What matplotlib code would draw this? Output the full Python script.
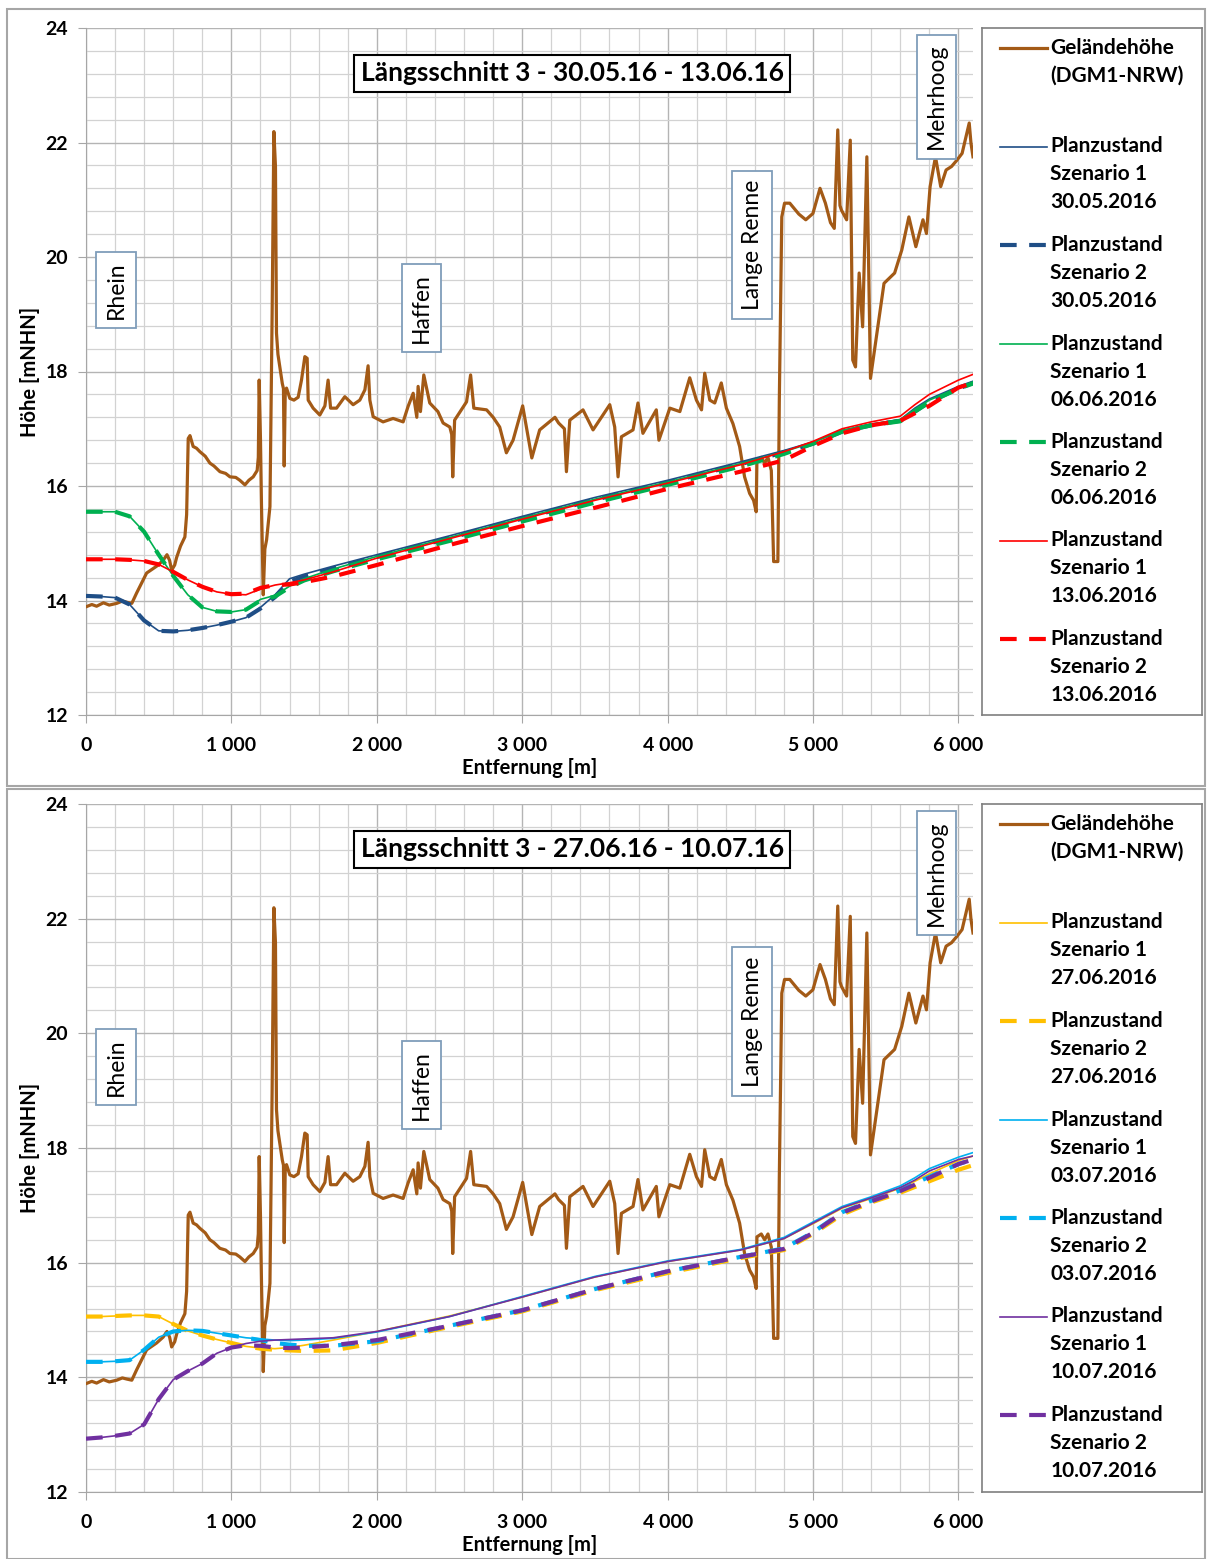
import matplotlib
matplotlib.use("Agg")
import matplotlib.pyplot as plt
from matplotlib.patches import Rectangle
from matplotlib.ticker import MultipleLocator

plt.rcParams['font.family'] = ['Lato', 'DejaVu Sans']

# Gelaendehoehe (DGM1-NRW), gleich fuer beide Zeitraeume
terr_x = [0, 40, 73, 120, 160, 211, 250, 280, 315, 348, 417, 486, 530, 557, 575, 589, 610, 623,
          650, 680, 692, 703, 715, 737, 760, 783, 820, 852, 880, 921, 960, 990, 1030, 1058, 1093,
          1120, 1150, 1177, 1185, 1191, 1200, 1207, 1219, 1230, 1242, 1265, 1280, 1292, 1303, 1310,
          1320, 1333, 1350, 1358, 1363, 1370, 1379, 1402, 1430, 1459, 1482, 1505, 1521, 1528, 1562,
          1608, 1643, 1665, 1682, 1723, 1780, 1837, 1883, 1918, 1940, 1952, 1975, 2043, 2112, 2181,
          2215, 2250, 2275, 2284, 2300, 2323, 2364, 2420, 2456, 2502, 2515, 2522, 2535, 2617, 2645,
          2667, 2755, 2800, 2845, 2891, 2937, 3003, 3066, 3120, 3225, 3250, 3290, 3304, 3327, 3418,
          3487, 3602, 3636, 3659, 3682, 3762, 3796, 3830, 3922, 3940, 4015, 4084, 4152, 4198, 4233,
          4255, 4290, 4324, 4369, 4404, 4449, 4495, 4529, 4564, 4591, 4609, 4614, 4644, 4667, 4690,
          4713, 4729, 4758, 4768, 4785, 4804, 4840, 4902, 4950, 4999, 5048, 5085, 5120, 5146, 5170,
          5185, 5195, 5231, 5256, 5273, 5292, 5317, 5341, 5370, 5395, 5439, 5488, 5561, 5610, 5659,
          5707, 5756, 5780, 5805, 5842, 5878, 5915, 5952, 5989, 6025, 6074, 6086, 6100]
terr_y = [13.89, 13.93, 13.90, 13.96, 13.92, 13.95, 13.99, 13.97, 13.95, 14.13, 14.48, 14.60, 14.70,
          14.80, 14.70, 14.53, 14.62, 14.75, 14.95, 15.11, 15.50, 16.83, 16.88, 16.69, 16.66, 16.60,
          16.52, 16.40, 16.35, 16.25, 16.22, 16.16, 16.15, 16.10, 16.02, 16.10, 16.16, 16.27, 16.50,
          17.85, 16.80, 15.64, 14.10, 14.90, 15.06, 15.64, 19.00, 22.19, 21.58, 18.67, 18.30, 18.08,
          17.79, 17.70, 16.35, 17.60, 17.71, 17.53, 17.50, 17.55, 17.85, 18.26, 18.23, 17.50, 17.36,
          17.24, 17.40, 17.85, 17.36, 17.36, 17.56, 17.42, 17.50, 17.68, 18.10, 17.50, 17.21, 17.12,
          17.18, 17.12, 17.39, 17.62, 17.20, 17.74, 17.30, 17.94, 17.45, 17.30, 17.10, 17.03, 16.90,
          16.16, 17.15, 17.47, 17.94, 17.36, 17.33, 17.20, 17.03, 16.58, 16.80, 17.40, 16.49, 16.98,
          17.20, 17.10, 17.00, 16.25, 17.15, 17.33, 16.98, 17.42, 17.03, 16.16, 16.86, 16.98, 17.45,
          16.92, 17.33, 16.80, 17.36, 17.30, 17.89, 17.50, 17.33, 17.97, 17.50, 17.45, 17.80, 17.36,
          17.09, 16.69, 16.16, 15.87, 15.75, 15.55, 16.45, 16.50, 16.40, 16.50, 16.27, 14.68, 14.68,
          17.50, 20.70, 20.94, 20.94, 20.75, 20.65, 20.76, 21.20, 20.94, 20.60, 20.50, 22.22, 20.90,
          20.82, 20.65, 22.04, 18.20, 18.08, 19.72, 18.78, 21.75, 17.88, 18.67, 19.54, 19.72, 20.12,
          20.70, 20.18, 20.65, 20.41, 21.23, 21.75, 21.23, 21.52, 21.58, 21.69, 21.81, 22.34, 21.99,
          21.75]

# Stationierung der Wasserspiegellagen
wl_x = [0, 100, 200, 300, 400, 500, 600, 700, 800, 900, 1000, 1100, 1200, 1300, 1400, 1500, 1700,
        2000, 2500, 3000, 3500, 4000, 4500, 4800, 5000, 5200, 5400, 5600, 5700, 5800, 6000, 6100]

# Zeitraum 30.05.16 - 13.06.16
sz1_3005 = [14.08, 14.07, 14.05, 13.93, 13.65, 13.47, 13.46, 13.48, 13.52, 13.57, 13.63, 13.70, 13.88,
            14.10, 14.38, 14.46, 14.60, 14.80, 15.13, 15.47, 15.80, 16.10, 16.42, 16.62, 16.77, 16.97,
            17.08, 17.16, 17.36, 17.52, 17.74, 17.83]
sz2_3005 = [14.08, 14.07, 14.05, 13.93, 13.65, 13.47, 13.46, 13.48, 13.52, 13.57, 13.63, 13.70, 13.86,
            14.06, 14.33, 14.42, 14.56, 14.76, 15.09, 15.43, 15.76, 16.06, 16.38, 16.59, 16.74, 16.95,
            17.06, 17.14, 17.30, 17.47, 17.70, 17.80]
sz1_0606 = [15.55, 15.55, 15.55, 15.47, 15.20, 14.80, 14.43, 14.10, 13.88, 13.81, 13.80, 13.84, 14.02,
            14.09, 14.25, 14.38, 14.55, 14.77, 15.10, 15.44, 15.77, 16.07, 16.39, 16.60, 16.76, 16.97,
            17.08, 17.16, 17.34, 17.50, 17.72, 17.82]
sz2_0606 = [15.55, 15.55, 15.55, 15.47, 15.20, 14.80, 14.43, 14.10, 13.88, 13.81, 13.80, 13.84, 14.00,
            14.07, 14.23, 14.35, 14.51, 14.72, 15.04, 15.38, 15.71, 16.02, 16.34, 16.56, 16.74, 16.95,
            17.06, 17.13, 17.30, 17.46, 17.70, 17.79]
sz1_1306 = [14.72, 14.72, 14.72, 14.71, 14.69, 14.63, 14.50, 14.36, 14.24, 14.15, 14.11, 14.10, 14.20,
            14.27, 14.31, 14.36, 14.50, 14.74, 15.08, 15.42, 15.75, 16.05, 16.37, 16.60, 16.78, 17.00,
            17.12, 17.22, 17.42, 17.60, 17.85, 17.95]
sz2_1306 = [14.72, 14.72, 14.72, 14.71, 14.69, 14.63, 14.50, 14.36, 14.24, 14.15, 14.11, 14.12, 14.22,
            14.27, 14.28, 14.32, 14.42, 14.62, 14.97, 15.30, 15.62, 15.95, 16.25, 16.45, 16.70, 16.92,
            17.06, 17.14, 17.27, 17.40, 17.72, 17.80]

# Zeitraum 27.06.16 - 10.07.16
sz1_2706 = [15.06, 15.06, 15.07, 15.08, 15.08, 15.06, 14.93, 14.81, 14.73, 14.66, 14.60, 14.54, 14.51,
            14.50, 14.52, 14.56, 14.65, 14.80, 15.07, 15.40, 15.75, 16.02, 16.22, 16.42, 16.68, 16.95,
            17.12, 17.30, 17.42, 17.55, 17.78, 17.86]
sz2_2706 = [15.06, 15.06, 15.07, 15.08, 15.08, 15.06, 14.93, 14.81, 14.73, 14.66, 14.60, 14.54, 14.50,
            14.48, 14.47, 14.46, 14.47, 14.60, 14.88, 15.15, 15.52, 15.82, 16.08, 16.22, 16.50, 16.84,
            17.05, 17.22, 17.32, 17.42, 17.62, 17.70]
sz1_0307 = [14.27, 14.27, 14.28, 14.30, 14.48, 14.70, 14.80, 14.82, 14.81, 14.77, 14.73, 14.69, 14.67,
            14.65, 14.64, 14.65, 14.68, 14.79, 15.06, 15.41, 15.76, 16.03, 16.23, 16.44, 16.71, 16.98,
            17.15, 17.34, 17.48, 17.64, 17.84, 17.92]
sz2_0307 = [14.27, 14.27, 14.28, 14.30, 14.48, 14.70, 14.80, 14.82, 14.81, 14.77, 14.73, 14.69, 14.65,
            14.60, 14.57, 14.55, 14.55, 14.63, 14.90, 15.17, 15.54, 15.85, 16.10, 16.25, 16.53, 16.88,
            17.08, 17.26, 17.38, 17.50, 17.72, 17.80]
sz1_1007 = [12.93, 12.95, 12.98, 13.02, 13.18, 13.62, 13.96, 14.11, 14.24, 14.42, 14.52, 14.59, 14.63,
            14.65, 14.66, 14.67, 14.69, 14.80, 15.06, 15.40, 15.75, 16.02, 16.22, 16.42, 16.69, 16.96,
            17.13, 17.31, 17.44, 17.60, 17.80, 17.86]
sz2_1007 = [12.93, 12.95, 12.98, 13.02, 13.18, 13.62, 13.96, 14.11, 14.24, 14.42, 14.52, 14.56, 14.55,
            14.52, 14.51, 14.52, 14.56, 14.65, 14.90, 15.17, 15.54, 15.85, 16.10, 16.24, 16.52, 16.87,
            17.07, 17.25, 17.36, 17.48, 17.72, 17.80]

titles = ["Längsschnitt 3 - 30.05.16 - 13.06.16", "Längsschnitt 3 - 27.06.16 - 10.07.16"]
dates = [["30.05.2016", "06.06.2016", "13.06.2016"], ["27.06.2016", "03.07.2016", "10.07.2016"]]
series = [[(sz1_3005, sz2_3005), (sz1_0606, sz2_0606), (sz1_1306, sz2_1306)],
          [(sz1_2706, sz2_2706), (sz1_0307, sz2_0307), (sz1_1007, sz2_1007)]]
colors = [["#1F4E86", "#00B050", "#FF0000"], ["#FFC000", "#00B0F0", "#7030A0"]]
xtick_labels = ["0", "1 000", "2 000", "3 000", "4 000", "5 000", "6 000"]
places = ["Rhein", "Haffen", "Lange Renne", "Mehrhoog"]
place_pos = [(0.034, 0.618), (0.378, 0.592), (0.751, 0.684), (0.959, 0.900)]

terr_col = "#A35A16"
W, H = 1207, 1559
fig = plt.figure(figsize=(W / 100, H / 100), dpi=100)

# graue Rahmen um die beiden Diagramme
for top, bot in [(9, 786), (789, 1559)]:
    fig.patches.append(Rectangle((7 / W, 1 - bot / H), 1198 / W, (bot - top) / H,
                                 transform=fig.transFigure, fill=False,
                                 edgecolor="#A6A6A6", lw=1.5))

for k in range(2):
    top, bot = (28, 715) if k == 0 else (804, 1492)
    ax = fig.add_axes([86 / W, 1 - bot / H, 887 / W, (bot - top) / H])
    lax = fig.add_axes([982 / W, 1 - bot / H, 220 / W, (bot - top) / H])

    ax.plot(terr_x, terr_y, color=terr_col, lw=2.3, zorder=3)
    for (s1, s2), c in zip(series[k], colors[k]):
        ax.plot(wl_x, s1, color=c, lw=1.2, zorder=4)
        ax.plot(wl_x, s2, color=c, lw=3.0, dashes=(4, 3), zorder=4)

    ax.set_xlim(0, 6100)
    ax.set_ylim(12, 24)
    ax.xaxis.set_major_locator(MultipleLocator(1000))
    ax.xaxis.set_minor_locator(MultipleLocator(200))
    ax.yaxis.set_major_locator(MultipleLocator(2))
    ax.yaxis.set_minor_locator(MultipleLocator(0.4))
    ax.set_xticks(range(0, 6001, 1000))
    ax.set_xticklabels(xtick_labels)
    ax.grid(which="major", color="#B4B4B4", lw=1.0, zorder=0)
    ax.grid(which="minor", color="#D2D2D2", lw=0.9, zorder=0)
    ax.set_axisbelow(True)
    for sp in ["top", "right"]:
        ax.spines[sp].set_visible(False)
    for sp in ["left", "bottom"]:
        ax.spines[sp].set_color("#A6A6A6")
    ax.tick_params(which="major", length=6, color="#A6A6A6", labelsize=14, pad=7)
    ax.tick_params(axis="x", which="major", pad=10)
    ax.tick_params(which="minor", length=0)
    for lab in ax.get_xticklabels() + ax.get_yticklabels():
        lab.set_fontweight("bold")
    ax.set_xlabel("Entfernung [m]", fontsize=14.5, fontweight="bold", labelpad=3)
    ax.set_ylabel("Höhe [mNHN]", fontsize=14.5, fontweight="bold", labelpad=4)

    ax.text(0.548, 0.934, titles[k], transform=ax.transAxes, ha="center", va="center",
            fontsize=19, fontweight="bold", zorder=6,
            bbox=dict(boxstyle="square,pad=0.25", fc="white", ec="black", lw=1.5))
    for name, (px, py) in zip(places, place_pos):
        ax.text(px, py, name, transform=ax.transAxes, rotation=90, ha="center", va="center",
                fontsize=16.5, zorder=6,
                bbox=dict(boxstyle="square,pad=0.4", fc="white", ec="#7F9DBA", lw=1.3))

    # Legende
    lax.set_xlim(0, 1)
    lax.set_ylim(0, 1)
    lax.set_xticks([])
    lax.set_yticks([])
    for sp in lax.spines.values():
        sp.set_color("#7F7F7F")
        sp.set_linewidth(1.2)
    step = 98.5 / (bot - top)
    lh = 28.0 / (bot - top)
    y0 = 1 - 20.0 / (bot - top)
    lax.plot([0.082, 0.295], [y0, y0], color=terr_col, lw=2.3)
    for j, line in enumerate(["Geländehöhe", "(DGM1-NRW)"]):
        lax.text(0.31, y0 - j * lh, line, fontsize=15, fontweight="bold", va="center", ha="left")
    n = 1
    for d, c in zip(dates[k], colors[k]):
        for sz in (1, 2):
            yy = y0 - n * step
            if sz == 1:
                lax.plot([0.082, 0.295], [yy, yy], color=c, lw=1.2)
            else:
                lax.plot([0.082, 0.295], [yy, yy], color=c, lw=3.0, dashes=(4, 3))
            for j, line in enumerate(["Planzustand", "Szenario %d" % sz, d]):
                lax.text(0.31, yy - j * lh, line, fontsize=15, fontweight="bold",
                         va="center", ha="left")
            n += 1

fig.savefig("out.png", dpi=100)
